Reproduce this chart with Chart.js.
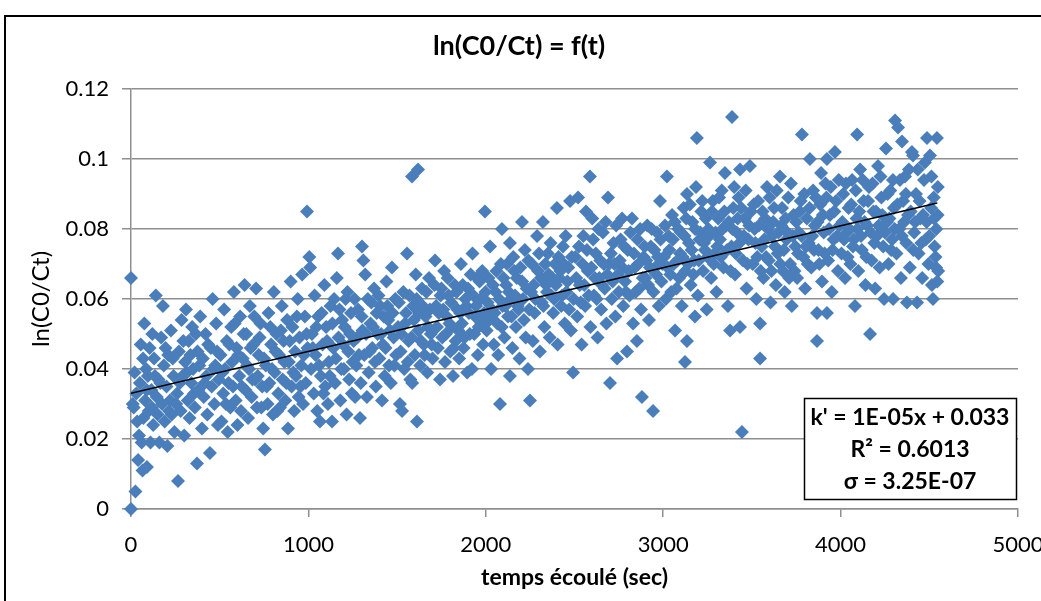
<!DOCTYPE html>
<html>
<head>
<meta charset="utf-8">
<script src="https://cdn.jsdelivr.net/npm/chart.js@4.4.1/dist/chart.umd.min.js"></script>
<style>
  html, body { margin: 0; padding: 0; background: #fff; }
</style>
</head>
<body>
<canvas id="chart" width="1041" height="601"></canvas>
<script>
// measured points: [time (s), ln(C0/Ct)]
const obs = [
  [0,0.000],[0,0.066],[10,0.030],[15,0.029],[20,0.039],[25,0.005],[30,0.033],[40,0.014],[45,0.021],[50,0.036],
  [55,0.047],[60,0.019],[65,0.011],[70,0.026],[75,0.053],[80,0.031],[85,0.040],[90,0.012],[95,0.038],[100,0.028],
  [105,0.046],[110,0.019],[115,0.034],[120,0.050],[125,0.024],[130,0.043],[140,0.061],[145,0.032],[150,0.027],[155,0.037],
  [160,0.019],[170,0.049],[175,0.030],[180,0.058],[185,0.041],[190,0.025],[200,0.035],[205,0.018],[210,0.044],[220,0.031],
  [225,0.051],[230,0.027],[240,0.038],[245,0.022],
  [265,0.008],[260,0.033],[270,0.045],[280,0.028],[285,0.054],[290,0.038],[300,0.021],[305,0.042],[310,0.057],[320,0.031],
  [325,0.048],[330,0.026],[340,0.036],[345,0.052],[350,0.040],[360,0.029],[372,0.013],[375,0.045],[380,0.034],[390,0.055],
  [400,0.023],[405,0.043],[410,0.032],[420,0.050],[425,0.038],[430,0.027],[445,0.016],[450,0.046],[455,0.035],[460,0.060],
  [470,0.030],[475,0.041],[480,0.053],[490,0.024],[495,0.037],
  [505,0.044],[510,0.025],[520,0.033],[525,0.057],[530,0.040],[540,0.048],[545,0.022],[550,0.036],[560,0.029],[565,0.052],
  [570,0.042],[580,0.062],[590,0.031],[595,0.046],[600,0.024],[610,0.038],[615,0.055],[620,0.028],[630,0.043],[640,0.064],
  [645,0.034],[650,0.050],[660,0.026],[665,0.040],[670,0.058],[680,0.032],[690,0.047],[700,0.037],[705,0.063],[710,0.029],
  [720,0.044],[730,0.053],[740,0.035],[745,0.023],
  [755,0.017],[760,0.041],[770,0.030],[775,0.056],[780,0.036],[790,0.047],[800,0.027],[805,0.062],[810,0.039],[820,0.050],
  [830,0.033],[835,0.044],[840,0.029],[850,0.058],[855,0.037],[860,0.048],[870,0.031],[880,0.054],[885,0.023],[890,0.042],
  [900,0.065],[905,0.035],[910,0.052],[920,0.028],[925,0.045],[930,0.038],[940,0.060],[945,0.032],[950,0.049],[960,0.041],
  [965,0.067],[970,0.030],[980,0.055],[985,0.036],[992,0.085],[995,0.046],
  [1005,0.072],[1010,0.069],[1015,0.040],[1020,0.050],[1030,0.033],[1035,0.061],[1040,0.044],[1050,0.028],[1055,0.055],[1065,0.025],
  [1070,0.038],[1080,0.047],[1090,0.064],[1095,0.035],[1100,0.052],[1110,0.030],[1115,0.042],[1125,0.058],[1133,0.025],[1140,0.046],
  [1150,0.036],[1160,0.066],[1167,0.073],[1170,0.049],[1180,0.031],[1190,0.054],[1200,0.040],[1210,0.060],[1215,0.027],[1225,0.045],
  [1230,0.037],[1240,0.056],[1245,0.033],
  [1255,0.048],[1263,0.032],[1270,0.041],[1280,0.057],[1291,0.026],[1295,0.036],[1302,0.075],[1305,0.051],[1310,0.071],[1315,0.044],
  [1320,0.067],[1330,0.032],[1335,0.060],[1340,0.039],[1350,0.053],[1360,0.046],[1370,0.063],[1380,0.035],[1390,0.050],[1400,0.043],
  [1405,0.058],[1415,0.031],[1420,0.047],[1430,0.038],[1440,0.065],[1450,0.054],[1455,0.041],[1465,0.036],[1471,0.069],[1480,0.049],
  [1490,0.060],[1495,0.044],
  [1505,0.052],[1516,0.030],[1520,0.045],[1528,0.028],[1535,0.062],[1540,0.040],[1550,0.056],[1556,0.073],[1565,0.048],[1575,0.037],
  [1584,0.095],[1585,0.036],[1590,0.058],[1600,0.044],[1605,0.067],[1612,0.025],[1618,0.097],[1620,0.051],[1630,0.041],[1640,0.063],
  [1650,0.047],[1660,0.055],[1670,0.039],[1680,0.066],[1690,0.050],[1700,0.043],[1714,0.071],[1720,0.058],[1730,0.046],[1742,0.037],
  [1745,0.061],
  [1755,0.049],[1765,0.068],[1770,0.042],[1780,0.055],[1790,0.061],[1800,0.045],[1810,0.052],[1815,0.038],[1825,0.064],[1830,0.048],
  [1840,0.057],[1850,0.043],[1860,0.070],[1865,0.053],[1875,0.046],[1885,0.060],[1895,0.039],[1905,0.056],[1915,0.067],[1922,0.040],
  [1925,0.073],[1935,0.050],[1945,0.058],[1955,0.044],[1965,0.065],[1975,0.053],[1985,0.047],[1995,0.085],[1998,0.062],
  [2005,0.051],[2015,0.066],[2024,0.075],[2030,0.040],[2035,0.057],[2045,0.047],[2055,0.062],[2065,0.053],[2070,0.044],[2080,0.030],
  [2085,0.070],[2091,0.080],[2095,0.058],[2105,0.049],[2115,0.064],[2125,0.055],[2136,0.038],[2136,0.076],[2140,0.060],[2150,0.046],
  [2160,0.068],[2170,0.052],[2180,0.058],[2190,0.043],[2204,0.082],[2205,0.065],[2215,0.054],[2225,0.049],[2238,0.040],[2240,0.071],
  [2249,0.031],
  [2255,0.062],[2265,0.048],[2275,0.056],[2289,0.078],[2295,0.068],[2305,0.045],[2315,0.059],[2322,0.082],[2330,0.052],[2340,0.064],
  [2350,0.073],[2360,0.049],[2370,0.061],[2380,0.056],[2390,0.070],[2401,0.086],[2405,0.047],[2415,0.066],[2425,0.058],[2435,0.075],
  [2445,0.053],[2455,0.062],[2465,0.069],[2475,0.088],[2480,0.051],[2492,0.039],[2495,0.060],
  [2505,0.072],[2515,0.055],[2520,0.089],[2530,0.064],[2540,0.047],[2550,0.078],[2560,0.058],[2565,0.085],[2575,0.068],[2587,0.095],
  [2590,0.052],[2600,0.083],[2610,0.061],[2620,0.073],[2630,0.049],[2640,0.066],[2650,0.057],[2660,0.079],[2670,0.063],[2680,0.053],
  [2689,0.089],[2695,0.070],[2700,0.036],[2710,0.060],[2720,0.076],[2730,0.055],[2740,0.043],[2745,0.067],
  [2755,0.071],[2768,0.083],[2775,0.058],[2785,0.065],[2796,0.045],[2800,0.074],[2810,0.061],[2824,0.083],[2830,0.053],[2840,0.069],
  [2852,0.048],[2855,0.077],[2865,0.063],[2875,0.057],[2880,0.032],[2890,0.072],[2900,0.066],[2910,0.081],[2920,0.054],[2930,0.075],
  [2943,0.028],[2945,0.062],[2955,0.069],[2965,0.079],[2975,0.058],[2982,0.088],[2990,0.065],
  [3005,0.072],[3015,0.060],[3021,0.095],[3030,0.078],[3040,0.067],[3050,0.084],[3060,0.070],[3067,0.051],[3075,0.063],[3085,0.080],
  [3095,0.073],[3105,0.058],[3115,0.086],[3123,0.042],[3125,0.068],[3134,0.090],[3134,0.048],[3145,0.076],[3155,0.064],[3165,0.082],
  [3175,0.071],[3179,0.055],[3185,0.092],[3190,0.106],[3195,0.061],[3205,0.077],[3215,0.085],[3225,0.068],[3235,0.074],[3245,0.057],
  [3255,0.080],[3264,0.099],[3270,0.066],[3280,0.088],[3290,0.073],[3300,0.062],[3310,0.083],[3320,0.077],[3330,0.091],[3340,0.069],
  [3348,0.096],[3355,0.081],[3365,0.058],[3377,0.051],[3385,0.075],[3388,0.112],[3395,0.086],[3405,0.067],[3415,0.079],[3425,0.089],
  [3433,0.052],[3433,0.097],[3444,0.022],[3450,0.071],[3460,0.083],[3470,0.063],[3480,0.077],[3489,0.098],[3495,0.085],
  [3505,0.070],[3515,0.080],[3525,0.060],[3535,0.088],[3546,0.043],[3546,0.053],[3555,0.075],[3565,0.066],[3575,0.083],[3585,0.092],
  [3595,0.071],[3605,0.059],[3615,0.078],[3625,0.086],[3635,0.064],[3645,0.073],[3658,0.095],[3665,0.081],[3675,0.068],[3685,0.062],
  [3695,0.077],[3705,0.089],[3715,0.070],[3725,0.058],[3735,0.084],[3745,0.075],
  [3755,0.066],[3765,0.079],[3775,0.088],[3782,0.107],[3790,0.072],[3800,0.063],[3810,0.083],[3820,0.076],[3827,0.100],[3835,0.069],
  [3845,0.091],[3855,0.081],[3867,0.048],[3867,0.056],[3875,0.074],[3885,0.087],[3895,0.065],[3905,0.079],[3915,0.093],[3923,0.100],
  [3923,0.056],[3930,0.071],[3940,0.084],[3950,0.062],[3960,0.077],[3968,0.102],[3975,0.088],[3985,0.068],[3995,0.081],
  [4005,0.073],[4015,0.090],[4025,0.066],[4035,0.079],[4045,0.086],[4055,0.070],[4065,0.094],[4075,0.077],[4081,0.058],[4090,0.083],
  [4093,0.107],[4100,0.068],[4110,0.097],[4120,0.074],[4130,0.088],[4140,0.064],[4150,0.081],[4160,0.092],[4166,0.050],[4175,0.071],
  [4185,0.085],[4195,0.063],[4205,0.078],[4211,0.098],[4220,0.069],[4230,0.089],[4240,0.075],[4245,0.060],
  [4256,0.103],[4262,0.082],[4270,0.070],[4280,0.091],[4290,0.077],[4296,0.060],[4300,0.086],[4307,0.111],[4315,0.073],[4324,0.109],
  [4330,0.080],[4340,0.066],[4346,0.105],[4352,0.088],[4363,0.095],[4370,0.076],[4374,0.059],[4380,0.084],[4390,0.069],[4402,0.102],
  [4408,0.101],[4415,0.079],[4425,0.090],[4431,0.059],[4440,0.073],[4450,0.083],[4460,0.066],[4470,0.094],[4480,0.077],[4487,0.106],
  [4495,0.070],[4504,0.101],[4510,0.086],[4515,0.064],[4521,0.060],[4525,0.089],[4530,0.075],[4535,0.072],[4540,0.080],[4543,0.106],
  [4545,0.065],[4548,0.092],[4550,0.068]
];

// second pass through the dense band
const obs2 = [
  [35,0.025],[68,0.043],[88,0.034],[118,0.029],[135,0.038],[165,0.036],[195,0.046],[215,0.028],[235,0.043],[255,0.030],
  [275,0.036],[295,0.048],[315,0.039],[335,0.044],[355,0.033],[365,0.050],[385,0.041],[415,0.036],[435,0.047],[465,0.040],[485,0.045],
  [515,0.039],[535,0.030],[555,0.047],[575,0.035],[585,0.053],[605,0.044],[625,0.035],[635,0.050],[655,0.041],[675,0.046],
  [685,0.037],[695,0.055],[715,0.038],[725,0.049],[735,0.029],[750,0.043],[765,0.035],[785,0.052],[795,0.040],[815,0.045],
  [825,0.028],[845,0.051],[865,0.042],[875,0.036],[895,0.048],[915,0.039],[935,0.055],[955,0.035],[975,0.044],[990,0.050],
  [1025,0.046],[1045,0.052],[1060,0.041],[1075,0.056],[1085,0.033],[1105,0.048],[1120,0.038],[1135,0.053],[1145,0.060],[1155,0.043],
  [1175,0.057],[1185,0.040],[1195,0.047],[1205,0.052],[1220,0.062],[1235,0.050],[1250,0.042],[1260,0.060],[1275,0.049],[1285,0.044],
  [1300,0.055],[1325,0.050],[1345,0.045],[1355,0.059],[1365,0.052],[1375,0.042],[1385,0.056],[1395,0.061],[1410,0.050],[1425,0.055],
  [1435,0.046],[1445,0.058],[1460,0.051],[1475,0.056],[1485,0.041],
  [1510,0.059],[1525,0.050],[1545,0.053],[1560,0.042],[1570,0.061],[1580,0.049],[1595,0.054],[1610,0.060],[1625,0.056],[1635,0.048],
  [1645,0.058],[1655,0.044],[1665,0.062],[1675,0.052],[1685,0.057],[1695,0.047],[1710,0.064],[1725,0.052],[1735,0.056],[1750,0.063],
  [1760,0.057],[1775,0.050],[1785,0.066],[1795,0.053],[1805,0.059],[1820,0.046],[1835,0.062],[1845,0.051],[1855,0.056],[1870,0.064],
  [1880,0.049],[1890,0.058],[1900,0.063],[1910,0.050],[1930,0.061],[1940,0.055],[1950,0.066],[1960,0.052],[1970,0.060],[1980,0.068],[1990,0.056],
  [2010,0.059],[2020,0.054],[2040,0.064],[2050,0.056],[2060,0.068],[2075,0.060],[2090,0.052],[2100,0.066],[2110,0.058],[2120,0.070],
  [2130,0.062],[2145,0.055],[2155,0.072],[2165,0.061],[2175,0.066],[2185,0.057],[2195,0.069],[2210,0.060],[2220,0.074],[2230,0.063],
  [2245,0.057],[2260,0.070],[2270,0.064],[2280,0.060],[2300,0.073],[2310,0.066],[2325,0.058],[2335,0.070],[2345,0.062],[2355,0.067],
  [2365,0.076],[2375,0.066],[2385,0.060],[2395,0.064],[2410,0.072],[2420,0.068],[2430,0.061],[2440,0.070],[2450,0.078],[2460,0.065],
  [2470,0.057],[2485,0.072],
  [2510,0.066],[2525,0.075],[2535,0.059],[2545,0.070],[2555,0.064],[2570,0.074],[2580,0.061],[2595,0.069],[2605,0.077],[2615,0.066],
  [2625,0.060],[2635,0.080],[2645,0.071],[2655,0.064],[2665,0.070],[2675,0.082],[2685,0.067],[2705,0.073],[2715,0.065],[2725,0.070],
  [2735,0.081],[2750,0.062],[2760,0.077],[2770,0.069],[2780,0.075],[2790,0.062],[2805,0.068],[2815,0.079],[2835,0.073],[2845,0.062],
  [2860,0.070],[2870,0.080],[2885,0.066],[2895,0.075],[2905,0.071],[2915,0.064],[2925,0.069],[2935,0.080],[2950,0.074],[2960,0.067],
  [2970,0.072],[2985,0.077],[2995,0.070],
  [3010,0.081],[3025,0.069],[3035,0.074],[3045,0.062],[3055,0.077],[3065,0.082],[3080,0.071],[3090,0.066],[3100,0.079],[3110,0.072],
  [3120,0.078],[3130,0.083],[3140,0.070],[3150,0.087],[3160,0.074],[3170,0.067],[3180,0.080],[3200,0.071],[3210,0.079],[3220,0.088],
  [3230,0.076],[3240,0.083],[3250,0.072],[3260,0.078],[3275,0.085],[3285,0.070],[3295,0.079],[3305,0.075],[3315,0.089],[3325,0.072],
  [3335,0.080],[3345,0.085],[3360,0.074],[3370,0.082],[3380,0.068],[3390,0.080],[3400,0.092],[3410,0.073],[3420,0.083],[3430,0.076],
  [3440,0.086],[3455,0.078],[3465,0.091],[3475,0.070],[3485,0.081],
  [3510,0.087],[3520,0.076],[3530,0.072],[3540,0.081],[3550,0.068],[3560,0.085],[3570,0.077],[3580,0.072],[3590,0.080],[3600,0.089],
  [3610,0.068],[3620,0.082],[3630,0.075],[3640,0.091],[3650,0.079],[3660,0.070],[3670,0.086],[3680,0.074],[3690,0.083],[3700,0.079],
  [3710,0.066],[3720,0.093],[3730,0.078],[3740,0.068],[3750,0.082],[3760,0.073],[3770,0.085],[3780,0.078],[3795,0.090],[3805,0.075],
  [3815,0.070],[3825,0.086],[3840,0.078],[3850,0.074],[3860,0.089],[3870,0.082],[3880,0.070],[3890,0.096],[3900,0.084],[3910,0.073],
  [3920,0.089],[3935,0.080],[3945,0.092],[3955,0.074],[3965,0.085],[3980,0.078],[3990,0.094],
  [4010,0.082],[4020,0.077],[4030,0.093],[4040,0.072],[4050,0.080],[4060,0.087],[4070,0.075],[4085,0.091],[4095,0.080],[4105,0.085],
  [4115,0.078],[4125,0.094],[4135,0.082],[4145,0.072],[4155,0.088],[4170,0.079],[4180,0.093],[4190,0.076],[4200,0.085],[4215,0.081],
  [4225,0.095],[4235,0.084],[4250,0.079],[4265,0.090],[4275,0.083],[4285,0.074],[4295,0.094],[4305,0.080],[4320,0.087],[4335,0.094],
  [4345,0.078],[4358,0.082],[4368,0.090],[4385,0.097],[4395,0.085],[4410,0.074],[4420,0.082],[4435,0.097],[4445,0.088],[4455,0.076],
  [4465,0.084],[4475,0.099],[4485,0.082],[4500,0.078],[4512,0.095],[4527,0.083],[4538,0.069],[4547,0.084]
];

// linear trend line as drawn on the chart
const trendT = [0, 4545];
const trendY = [0.0331, 0.0874];

const xTicks = [0, 1000, 2000, 3000, 4000, 5000];
const yTicks = [0, 0.02, 0.04, 0.06, 0.08, 0.1, 0.12];
const eqLines = ["k' = 1E-05x + 0.033", "R\u00b2 = 0.6013", "\u03c3 = 3.25E-07"];

const gridGray = "#8f8f8f";
const pointBlue = "#4a7ebb";

const frame = {
  id: "frame",
  beforeDraw(chart) {
    const ctx = chart.ctx;
    ctx.save();
    ctx.fillStyle = "#fff";
    ctx.fillRect(0, 0, chart.width, chart.height);
    ctx.restore();
  },
  afterDraw(chart) {
    const ctx = chart.ctx;
    ctx.save();
    // outer chart border
    ctx.strokeStyle = "#000";
    ctx.lineWidth = 2;
    ctx.strokeRect(5, 16, 1100, 700);
    // equation box
    ctx.fillStyle = "#fff";
    ctx.fillRect(804, 398, 213, 102);
    ctx.lineWidth = 1.5;
    ctx.strokeRect(804.5, 398.5, 212, 101);
    ctx.fillStyle = "#000";
    ctx.font = "bold 23px Lato";
    ctx.textAlign = "center";
    ctx.textBaseline = "middle";
    const rows = [418, 450, 482];
    eqLines.forEach((t, i) => ctx.fillText(t, 910, rows[i]));
    ctx.restore();
  }
};

new Chart(document.getElementById("chart"), {
  type: "scatter",
  data: {
    datasets: [
      {
        type: "line",
        data: trendT.map((t, i) => ({ x: t, y: trendY[i] })),
        borderColor: "#000",
        borderWidth: 1.5,
        pointRadius: 0,
        order: 0
      },
      {
        data: obs.concat(obs2).map(([t, v]) => ({ x: t, y: v })),
        pointStyle: "rectRot",
        pointRadius: 7,
        backgroundColor: pointBlue,
        borderWidth: 0,
        clip: false,
        order: 1
      }
    ]
  },
  options: {
    responsive: false,
    animation: false,
    layout: { padding: { left: 20, right: 23, top: 0, bottom: 0 } },
    plugins: {
      legend: { display: false },
      tooltip: { enabled: false },
      title: {
        display: true,
        text: "ln(C0/Ct) = f(t)",
        color: "#000",
        font: { family: "Lato", size: 27, weight: "bold", lineHeight: 1.2 },
        padding: { top: 30, bottom: 26.6 }
      }
    },
    scales: {
      x: {
        type: "linear",
        min: 0,
        max: 5000,
        afterBuildTicks: (s) => { s.ticks = xTicks.map((v) => ({ value: v })); },
        afterFit: (s) => { s.height = 92; s.paddingRight = 0; },
        ticks: {
          color: "#000",
          font: { family: "Lato", size: 22 },
          padding: 15,
          callback: (v) => String(v)
        },
        grid: { drawOnChartArea: false, color: gridGray, lineWidth: 1.5, tickLength: 8 },
        border: { color: gridGray, width: 1.5 },
        title: {
          display: true,
          text: "temps écoulé (sec)",
          color: "#000",
          font: { family: "Lato", size: 23, weight: "bold", lineHeight: 1.2 },
          padding: { top: 0, bottom: 10 }
        }
      },
      y: {
        min: 0,
        max: 0.12,
        afterBuildTicks: (s) => { s.ticks = yTicks.map((v) => ({ value: v })); },
        afterFit: (s) => { s.width = 111; },
        ticks: {
          color: "#000",
          font: { family: "Lato", size: 22 },
          padding: 13,
          callback: (v) => String(v)
        },
        grid: { color: gridGray, lineWidth: 1.5, tickLength: 9 },
        border: { color: gridGray, width: 1.5 },
        title: {
          display: true,
          text: "ln(C0/Ct)",
          color: "#000",
          font: { family: "Lato", size: 24, weight: "normal", lineHeight: 1.2 },
          padding: { top: 7, bottom: 0 }
        }
      }
    }
  },
  plugins: [frame]
});
</script>
</body>
</html>
